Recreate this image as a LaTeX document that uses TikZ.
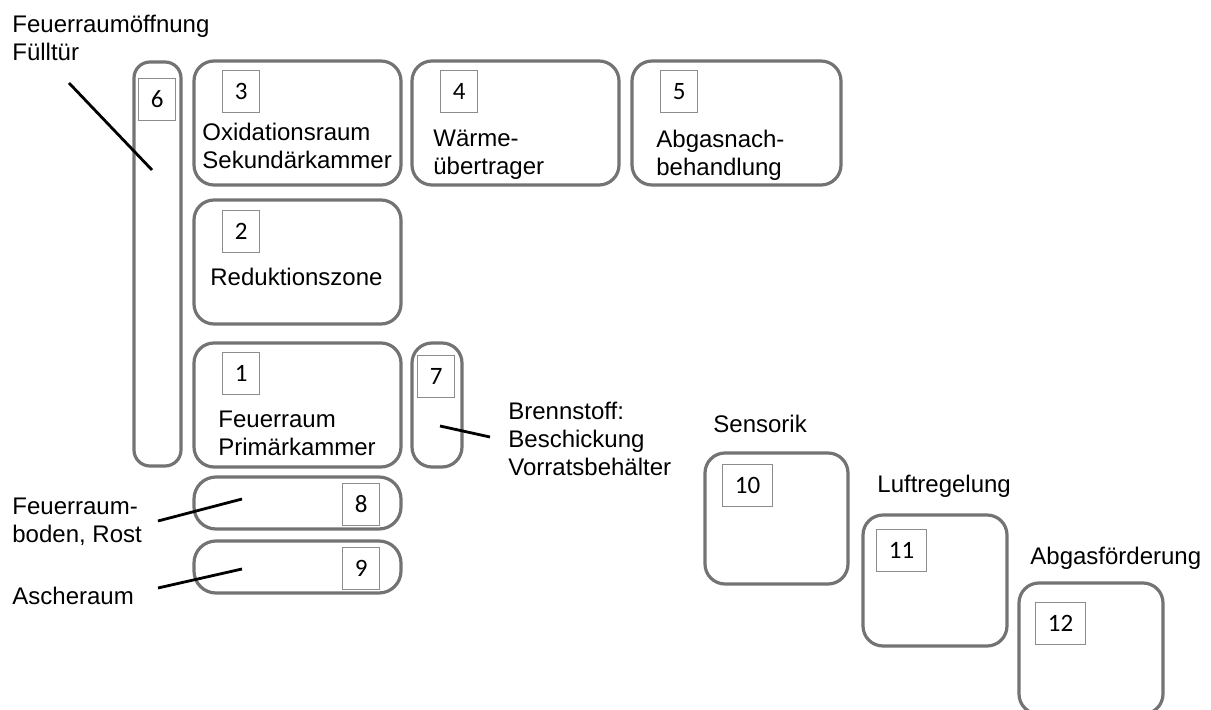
\documentclass[tikz,border=0pt]{standalone}
\usepackage{fontspec}
\setmainfont{Liberation Sans}
\newfontfamily\tagfamily{Carlito}
\usepackage{tikz}
\definecolor{PartGray}{HTML}{737373}
\definecolor{TagGray}{HTML}{8C8C8C}
\tikzset{
  partbox/.style={draw=PartGray,line width=1.6pt,rounded corners=10pt,inner sep=0pt},
  numtag/.style={draw=TagGray,line width=0.5pt,font=\tagfamily\fontsize{12.5}{14}\selectfont,
    inner xsep=6.2pt,inner ysep=0pt,minimum height=21pt,anchor=north west},
  txt/.style={font=\fontsize{12}{14}\selectfont,align=left,inner sep=0pt,anchor=north west},
  leaderline/.style={draw=black,line width=1.4pt}
}

\begin{document}
\begin{tikzpicture}[x=0.5pt,y=-0.5pt]
  \useasboundingbox (0,0) rectangle (1211,710);
  % Kessel
  \node[partbox,minimum width=23.5pt,minimum height=202pt,rounded corners=8pt] (fuell) at (157.5,264) {};
  \node[partbox,minimum width=103.5pt,minimum height=62pt] (sek) at (297.5,123) {};
  \node[partbox,minimum width=103.5pt,minimum height=62pt] (waerme) at (515.5,123) {};
  \node[partbox,minimum width=104.5pt,minimum height=62pt] (abgas) at (736.5,123) {};
  \node[partbox,minimum width=103.5pt,minimum height=62pt] (redu) at (297.5,262) {};
  \node[partbox,minimum width=103.5pt,minimum height=62pt] (prim) at (297.5,405) {};
  \node[partbox,minimum width=25pt,minimum height=62pt] (brenn) at (437,405) {};
  \node[partbox,minimum width=103.5pt,minimum height=26pt,rounded corners=11pt] (rost) at (297.5,503) {};
  \node[partbox,minimum width=103.5pt,minimum height=26pt,rounded corners=11pt] (asche) at (297.5,567) {};
  % Regelung
  \node[partbox,minimum width=71.5pt,minimum height=65.5pt] (sens) at (776.5,518.5) {};
  \node[partbox,minimum width=72pt,minimum height=65.5pt] (luft) at (935,580.5) {};
  \node[partbox,minimum width=72pt,minimum height=65.5pt] (foerd) at (1091,648.5) {};

  \node[numtag] (n1) at (222,352) {1};
  \node[numtag] (n2) at (222,210) {2};
  \node[numtag] (n3) at (222,70) {3};
  \node[numtag] (n4) at (440,70) {4};
  \node[numtag] (n5) at (660,70) {5};
  \node[numtag] (n6) at (138,78) {6};
  \node[numtag] (n7) at (417,355) {7};
  \node[numtag] (n8) at (342,483) {8};
  \node[numtag] (n9) at (342,547) {9};
  \node[numtag] (n10) at (722,464) {10};
  \node[numtag] (n11) at (876,529) {11};
  \node[numtag] (n12) at (1035,602) {12};

  \node[txt] (fuell-lbl) at (12,15) {Feuerraumöffnung\\Fülltür};
  \node[txt] (sek-lbl) at (202,123) {Oxidationsraum\\Sekundärkammer};
  \node[txt] (waerme-lbl) at (433,130) {Wärme-\\übertrager};
  \node[txt] (abgas-lbl) at (656,130) {Abgasnach-\\behandlung};
  \node[txt] (redu-lbl) at (210,268) {Reduktionszone};
  \node[txt] (prim-lbl) at (218,411) {Feuerraum\\Primärkammer};
  \node[txt] (brenn-lbl) at (508,402) {Brennstoff:\\Beschickung\\Vorratsbehälter};
  \node[txt] (rost-lbl) at (12,498) {Feuerraum-\\boden, Rost};
  \node[txt] (asche-lbl) at (12,587) {Ascheraum};
  \node[txt] (sens-lbl) at (713,415) {Sensorik};
  \node[txt] (luft-lbl) at (877,475) {Luftregelung};
  \node[txt] (foerd-lbl) at (1030,547) {Abgasförderung};

  \coordinate (fuell-a) at (69,83);   \coordinate (fuell-b) at (152,170);
  \coordinate (brenn-a) at (440,426); \coordinate (brenn-b) at (490,437);
  \coordinate (rost-a) at (158,521);  \coordinate (rost-b) at (242,499);
  \coordinate (asche-a) at (158,588); \coordinate (asche-b) at (242,569);
  \draw[leaderline] (fuell-a) -- (fuell-b);
  \draw[leaderline] (brenn-a) -- (brenn-b);
  \draw[leaderline] (rost-a) -- (rost-b);
  \draw[leaderline] (asche-a) -- (asche-b);
\end{tikzpicture}
\end{document}
